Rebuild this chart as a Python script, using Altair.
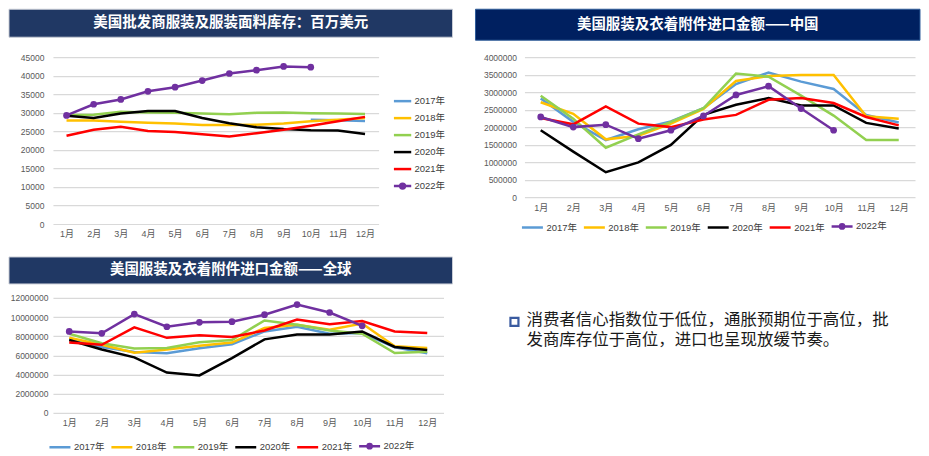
import altair as alt
import pandas as pd

months = [f"{i}月" for i in range(1, 13)]
years = ["2017年", "2018年", "2019年", "2020年", "2021年", "2022年"]
colors = ["#5B9BD5", "#FFC000", "#92D050", "#000000", "#FF0000", "#7030A0"]

# 美国批发商服装及服装面料库存：百万美元
inv_2017 = [None, None, None, None, None, None, None, None, None, 28100, 28000, 27800]
inv_2018 = [27900, 27900, 27600, 27300, 27100, 26700, 26700, 26800, 27100, 27700, 28100, 28600]
inv_2019 = [29400, 29500, 30300, 30100, 30000, 29800, 29600, 30000, 30100, 29900, 29800, 29700]
inv_2020 = [29200, 28600, 29800, 30500, 30500, 28600, 27200, 26100, 25600, 25300, 25200, 24300]
inv_2021 = [23800, 25400, 26200, 25100, 24800, 24200, 23600, 24500, 25400, 26500, 27700, 28900]
inv_2022 = [29300, 32300, 33600, 35800, 36900, 38700, 40600, 41500, 42500, 42300]

# 美国服装及衣着附件进口金额——中国
cn_2017 = [2820000, 2150000, 1630000, 1940000, 2160000, 2540000, 3230000, 3560000, 3300000, 3090000, 2350000, 2130000]
cn_2018 = [2710000, 2380000, 1650000, 1750000, 2100000, 2520000, 3320000, 3460000, 3490000, 3490000, 2310000, 2240000]
cn_2019 = [2900000, 2240000, 1410000, 1790000, 2150000, 2540000, 3530000, 3440000, 2900000, 2330000, 1630000, 1630000]
cn_2020 = [1910000, 1300000, 710000, 990000, 1490000, 2350000, 2640000, 2830000, 2620000, 2620000, 2120000, 1960000]
cn_2021 = [2260000, 2080000, 2590000, 2100000, 2000000, 2220000, 2350000, 2780000, 2830000, 2690000, 2290000, 2050000]
cn_2022 = [2290000, 2000000, 2070000, 1670000, 1910000, 2320000, 2920000, 3170000, 2530000, 1910000]

# 美国服装及衣着附件进口金额——全球
gl_2017 = [7670000, 6880000, 6350000, 6210000, 6740000, 7170000, 8500000, 8990000, 8260000, 8330000, 6840000, 6210000]
gl_2018 = [7830000, 7110000, 6280000, 6610000, 7010000, 7340000, 8860000, 9190000, 8690000, 9320000, 6940000, 6780000]
gl_2019 = [8260000, 7270000, 6710000, 6780000, 7370000, 7600000, 9650000, 9190000, 8600000, 8260000, 6250000, 6380000]
gl_2020 = [7600000, 6610000, 5790000, 4200000, 3900000, 5720000, 7670000, 8170000, 8170000, 8500000, 6880000, 6550000]
gl_2021 = [7340000, 7110000, 8930000, 7830000, 8100000, 7930000, 8600000, 9750000, 9260000, 9590000, 8500000, 8330000]
gl_2022 = [8500000, 8300000, 10310000, 8990000, 9450000, 9520000, 10250000, 11310000, 10480000, 9090000]

titles = ["美国批发商服装及服装面料库存：百万美元",
          "美国服装及衣着附件进口金额——中国",
          "美国服装及衣着附件进口金额——全球"]
note_lines = ["消费者信心指数位于低位，通胀预期位于高位，批",
              "发商库存位于高位，进口也呈现放缓节奏。"]

LABEL_FONT = "Liberation Sans, Noto Sans CJK SC"
CJK_FONT = "Noto Sans CJK SC"


def long_df(series):
    rows = []
    for yr, vals in zip(years, series):
        for m, v in zip(months, vals):
            if v is not None:
                rows.append({"month": m, "year": yr, "value": v})
    return pd.DataFrame(rows)


one = pd.DataFrame({"k": [0]})


def shapes_for(r):
    line = "M-1,0H1"
    dot = f"M-1,0H1M{r},0A{r},{r},0,1,1,-{r},0A{r},{r},0,1,1,{r},0Z"
    return [line] * 5 + [dot]


def make_legend(**kw):
    return alt.Legend(
        title=None, symbolStrokeWidth=2.5,
        labelFont=LABEL_FONT, labelFontSize=9.5, labelColor="#404040",
        labelOffset=2, orient="none", **kw)


def panel(df, title, ymax, ystep, W, H, box, bar_fill, bar_stroke, legend, dot_r, ylabpad):
    x = alt.X("month:O", sort=months, scale=alt.Scale(type="point", padding=0.5),
              axis=alt.Axis(title=None, labelAngle=0, domain=False, ticks=False, grid=False,
                            labelPadding=6, labelFont=LABEL_FONT, labelFontSize=9,
                            labelColor="#595959"))
    y = alt.Y("value:Q", scale=alt.Scale(domain=[0, ymax], nice=False),
              axis=alt.Axis(title=None, values=list(range(0, ymax + 1, ystep)), format="d",
                            domain=False, ticks=False, grid=True, gridColor="#D9D9D9",
                            gridWidth=1.2, labelPadding=ylabpad, labelFont=LABEL_FONT,
                            labelFontSize=8.5, labelColor="#595959"))
    lines = alt.Chart(df).mark_line(strokeWidth=2.5).encode(
        x=x, y=y, color=alt.Color("year:N", scale=alt.Scale(range=colors), legend=None))
    pts = (alt.Chart(df).transform_filter(alt.datum.year == "2022年")
           .mark_point(filled=True, size=45, opacity=1, color="#7030A0")
           .encode(x=x, y=y))
    cscale = alt.Scale(domain=years, range=colors)
    leg = (alt.Chart(df).transform_filter("false")
           .mark_point(strokeWidth=2.5, opacity=1)
           .encode(x=x, y=y,
                   fill=alt.Fill("year:N", scale=cscale, legend=legend),
                   stroke=alt.Stroke("year:N", scale=cscale, legend=legend),
                   shape=alt.Shape("year:N", scale=alt.Scale(domain=years, range=shapes_for(dot_r)),
                                   legend=legend)))
    x0, x1, y0, y1 = box
    rect = alt.Chart(one).mark_rect(fill=bar_fill, stroke=bar_stroke, strokeWidth=1).encode(
        x=alt.value(x0), x2=alt.value(x1), y=alt.value(y0), y2=alt.value(y1))
    txt = alt.Chart(one).mark_text(text=title, color="white", font=CJK_FONT, fontWeight="bold",
                                   fontSize=14.5, align="center", baseline="middle").encode(
        x=alt.value((x0 + x1) / 2), y=alt.value((y0 + y1) / 2))
    return alt.layer(lines, pts, leg, rect, txt).properties(width=W, height=H)


c1 = panel(long_df([inv_2017, inv_2018, inv_2019, inv_2020, inv_2021, inv_2022]), titles[0],
           45000, 5000, 326, 167, (-44, 400, -48, -20), "#203864", "#C9CDD6",
           make_legend(direction="vertical", symbolSize=300, rowPadding=2,
                       legendX=340, legendY=34), 0.28, 9)
c2 = panel(long_df([cn_2017, cn_2018, cn_2019, cn_2020, cn_2021, cn_2022]), titles[1],
           4000000, 500000, 391, 140, (-49, 396, -48, -17), "#002060", "#2E5C9A",
           make_legend(direction="horizontal", columns=6, columnPadding=1, symbolSize=441,
                       legendX=-4, legendY=157), 0.2, 8)
c3 = panel(long_df([gl_2017, gl_2018, gl_2019, gl_2020, gl_2021, gl_2022]), titles[2],
           12000000, 2000000, 391, 115, (-44, 400, -41, -14), "#203864", "#C9CDD6",
           make_legend(direction="horizontal", columns=6, columnPadding=1, symbolSize=441,
                       legendX=-5, legendY=136), 0.2, 5)

note = alt.layer(
    alt.Chart(one).mark_point(shape="square", filled=False, stroke="#3A5BA0", strokeWidth=2.2,
                              size=64, opacity=1).encode(x=alt.value(40), y=alt.value(24)),
    alt.Chart(one).mark_text(text=note_lines, align="left", baseline="top", fontSize=16.5,
                             font=CJK_FONT, color="#1A1A1A", lineHeight=20.5).encode(
        x=alt.value(52), y=alt.value(14)),
).properties(width=430, height=100)


def indep(c):
    return c.resolve_scale(color="independent", fill="independent", stroke="independent",
                           shape="independent", x="independent", y="independent").resolve_legend(
        color="independent", fill="independent", stroke="independent", shape="independent")


row1 = indep(alt.hconcat(c1, c2, spacing=21))
row2 = indep(alt.hconcat(c3, note, spacing=21))
chart = indep(alt.vconcat(row1, row2, spacing=17)).properties(
    padding={"left": 0, "top": 0, "right": 0, "bottom": 0}
).configure_view(strokeWidth=0)

chart.save("out.html", embed_options={"renderer": "svg", "actions": False})
